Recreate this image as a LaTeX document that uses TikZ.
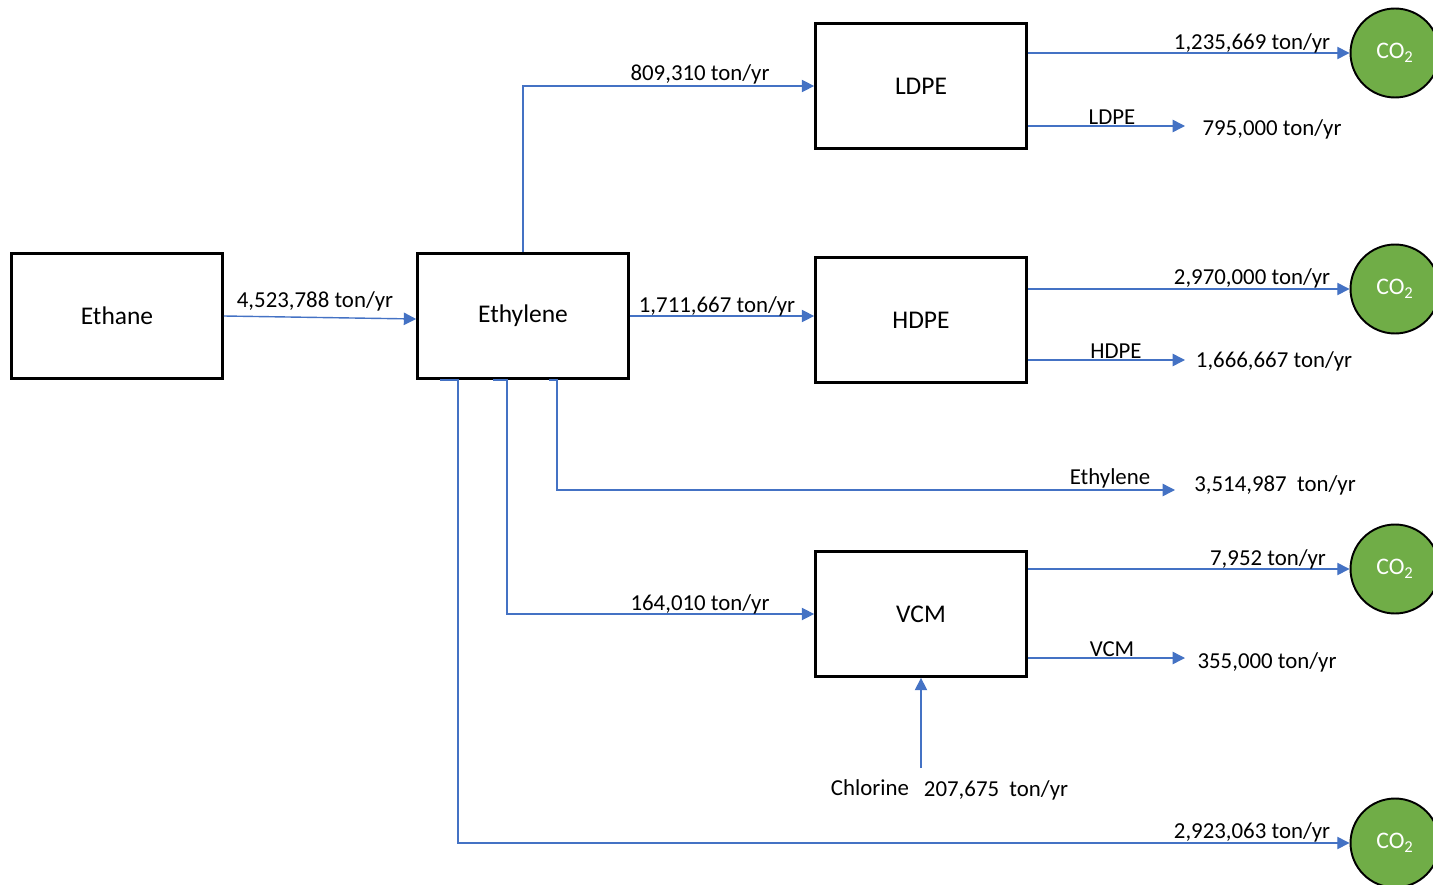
\documentclass[tikz,border=0pt]{standalone}
\usepackage{fontspec}
\setmainfont{Carlito}
\usetikzlibrary{arrows.meta,positioning,calc}
\definecolor{flowBlue}{RGB}{68,114,196}
\definecolor{co2Green}{RGB}{112,173,71}

\begin{document}
\begin{tikzpicture}[x=0.02cm,y=-0.02cm,
  U/.style={draw=black,line width=1.6pt,minimum width=4.22cm,minimum height=2.5cm,
            inner sep=0pt,font=\fontsize{14.5}{17}\selectfont},
  gas/.style={circle,draw=black,line width=1.1pt,fill=co2Green,minimum size=1.78cm,
              inner sep=0pt,text=white,font=\fontsize{13.5}{15}\selectfont},
  flow/.style={-{Triangle[length=7pt,width=7pt]},line width=0.8pt,draw=flowBlue},
  lbl/.style={inner sep=1pt,font=\fontsize{13}{15}\selectfont}]
\useasboundingbox (0,0) rectangle (1433,885);
% units
\node[U] (ethane) at (117,316) {Ethane};
\node[U] (ethylene) at (523,316) {Ethylene};
\node[U] (ldpe) at (921,86) {LDPE};
\node[U] (hdpe) at (921,320) {HDPE};
\node[U] (vcm) at (921,614) {VCM};
% CO2 sinks
\node[gas] (co2a) at (1395,53) {CO\textsubscript{2}};
\node[gas] (co2b) at (1395,289) {CO\textsubscript{2}};
\node[gas] (co2c) at (1395,569) {CO\textsubscript{2}};
\node[gas] (co2d) at (1395,843) {CO\textsubscript{2}};
% free ends
\coordinate (ldpeOut) at (1185,126);
\coordinate (hdpeOut) at (1185,360);
\coordinate (ethOut) at (1175,490);
\coordinate (vcmOut) at (1185,658);
\coordinate (clIn) at (921,768);
% flows
\draw[flow] (ethane.east) -- ($(ethylene.west)+(0,3)$);
\draw[flow] (ethylene.north) |- (ldpe.west);
\draw[flow] (ethylene.east) -- (ethylene.east -| hdpe.west);
\draw[flow] ($(ethylene.south)+(26,0)$) -- ++(8,0) |- (ethOut);
\draw[flow] ($(ethylene.south)+(-30,0)$) -- ++(14,0) |- (vcm.west);
\draw[flow] ($(ethylene.south)+(-83,0)$) -- ++(18,0) |- (co2d);
\draw[flow] (ldpe.east |- co2a) -- (co2a);
\draw[flow] (ldpe.east |- ldpeOut) -- (ldpeOut);
\draw[flow] (hdpe.east |- co2b) -- (co2b);
\draw[flow] (hdpe.east |- hdpeOut) -- (hdpeOut);
\draw[flow] (vcm.east |- co2c) -- (co2c);
\draw[flow] (vcm.east |- vcmOut) -- (vcmOut);
\draw[flow] (clIn) -- (vcm.south);
% labels
\node[lbl] (fEthane) at (315,301) {4,523,788 ton/yr};
\node[lbl] (fLdpe) at (700,74) {809,310 ton/yr};
\node[lbl] (fHdpe) at (717,306) {1,711,667 ton/yr};
\node[lbl] (fVcm) at (700,604) {164,010 ton/yr};
\node[lbl] (nEth) at (1110,478) {Ethylene};
\node[lbl] (pEth) at (1275,485) {3,514,987~~ton/yr};
\node[lbl] (gEth) at (1252,832) {2,923,063 ton/yr};
\node[lbl] (gLdpe) at (1252,43) {1,235,669 ton/yr};
\node[lbl] (nLdpe) at (1112,117) {LDPE};
\node[lbl] (pLdpe) at (1272,129) {795,000 ton/yr};
\node[lbl] (gHdpe) at (1252,278) {2,970,000 ton/yr};
\node[lbl] (nHdpe) at (1116,351) {HDPE};
\node[lbl] (pHdpe) at (1274,361) {1,666,667 ton/yr};
\node[lbl] (gVcm) at (1268,559) {7,952 ton/yr};
\node[lbl] (nVcm) at (1112,649) {VCM};
\node[lbl] (pVcm) at (1267,662) {355,000 ton/yr};
\node[lbl] (nCl) at (870,788) {Chlorine};
\node[lbl] (pCl) at (996,790) {207,675~~ton/yr};
\end{tikzpicture}
\end{document}
